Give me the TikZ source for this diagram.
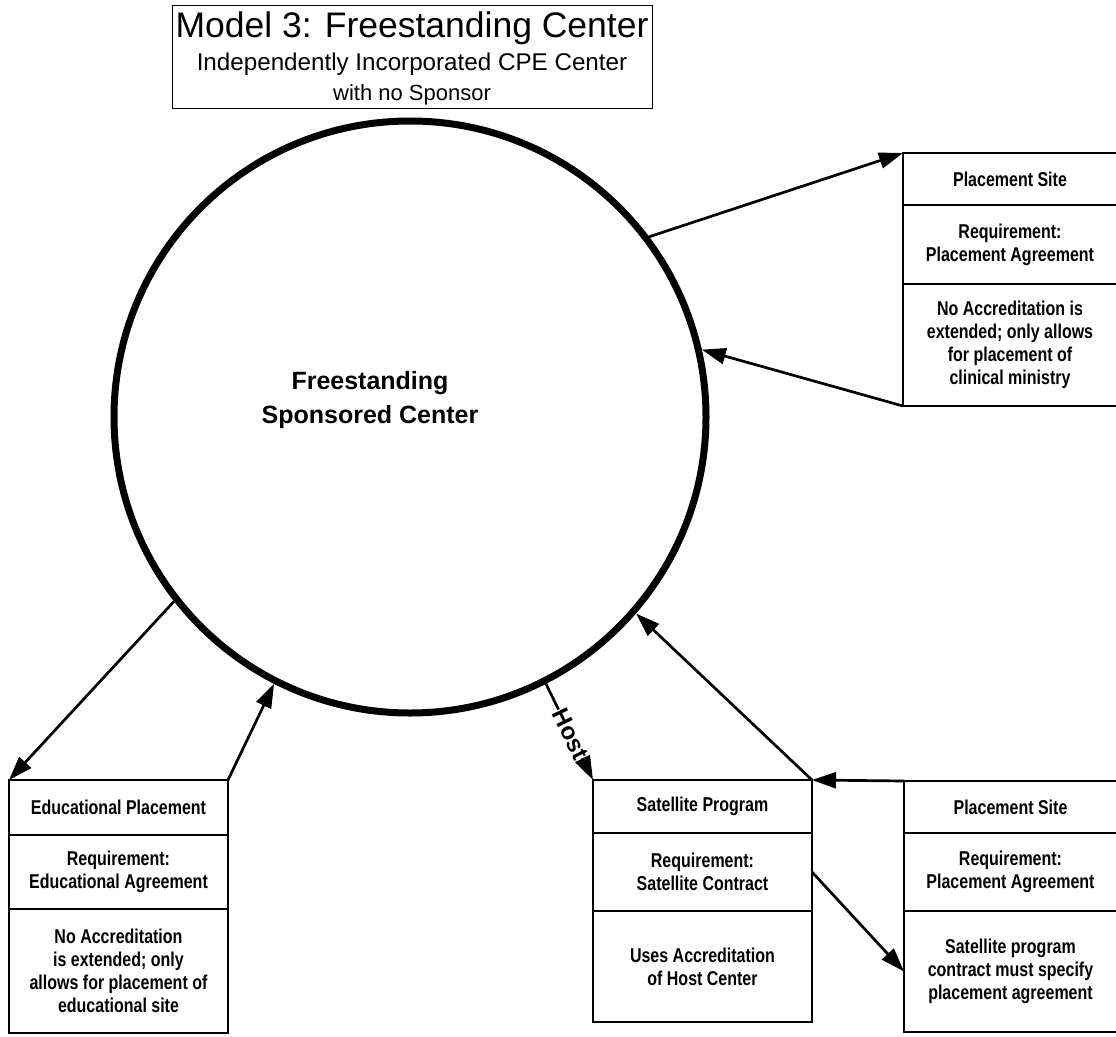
\documentclass[tikz,border=0pt]{standalone}
\usepackage{fontspec}
\setmainfont{Liberation Sans}
\newfontfamily\nar[FakeStretch=0.8]{Liberation Sans}
\usetikzlibrary{arrows.meta}
\begin{document}
\begin{tikzpicture}[x=1pt,y=-1pt,
  sec/.style={draw, line width=1.4pt, anchor=north west, inner sep=0pt, outer sep=0pt,
    align=center, font=\nar\bfseries\fontsize{20}{23}\selectfont},
  arr/.style={line width=2.7pt, -{Triangle[length=24pt,width=16pt]}},
  ttl/.style={anchor=base, inner sep=0pt}]
\useasboundingbox (0,0) rectangle (1116,1036);
\fill[white] (0,0) rectangle (1116,1036);

% title
\node[draw, line width=1pt, anchor=north west, minimum width=480pt, minimum height=103pt, inner sep=0pt] (title) at (172,5) {};
\node[ttl, font=\fontsize{35.5}{40}\selectfont] (t1) at (412,37) {Model 3: Freestanding Center};
\node[ttl, font=\fontsize{24.2}{28}\selectfont] (t2) at (412,70.7) {Independently Incorporated CPE Center};
\node[ttl, font=\fontsize{22}{26}\selectfont] (t3) at (412,100) {with no Sponsor};

% main circle
\node[circle, draw, line width=7pt, minimum size=592pt, inner sep=0pt] (c) at (410,417) {};
\node[font=\bfseries\fontsize{25}{34}\selectfont, align=center] (ctext) at (370,400) {Freestanding\\Sponsored Center};

% top-right box
\node[sec, minimum width=214pt, minimum height=52pt] (tr1) at (903,153) {Placement Site};
\node[sec, minimum width=214pt, minimum height=79pt] (tr2) at (903,205) {Requirement:\\Placement Agreement};
\node[sec, minimum width=214pt, minimum height=122pt] (tr3) at (903,284) {No Accreditation is\\extended; only allows\\for placement of\\clinical ministry};

% bottom-left box
\node[sec, minimum width=219pt, minimum height=55pt] (bl1) at (9,780) {Educational Placement};
\node[sec, minimum width=219pt, minimum height=74pt] (bl2) at (9,835) {Requirement:\\Educational Agreement};
\node[sec, minimum width=219pt, minimum height=124pt] (bl3) at (9,909) {No Accreditation\\is extended; only\\allows for placement of\\educational site};

% satellite box
\node[sec, minimum width=219pt, minimum height=53pt] (sp1) at (593,780) {Satellite Program};
\node[sec, minimum width=219pt, minimum height=78pt] (sp2) at (593,833) {Requirement:\\Satellite Contract};
\node[sec, minimum width=219pt, minimum height=111pt] (sp3) at (593,911) {Uses Accreditation\\of Host Center};

% bottom-right box
\node[sec, minimum width=213pt, minimum height=52pt] (br1) at (904,781) {Placement Site};
\node[sec, minimum width=213pt, minimum height=78pt] (br2) at (904,833) {Requirement:\\Placement Agreement};
\node[sec, minimum width=213pt, minimum height=121pt] (br3) at (904,911) {Satellite program\\contract must specify\\placement agreement};

% connectors
\draw[arr] (c.37.2) -- (tr1.north west);
\draw[arr] (tr3.south west) -- (c.13.5);
\draw[arr] (c.218.7) -- (bl1.north west);
\draw[arr] (bl1.north east) -- (c.243.4);
\draw[arr] (c.297.7) -- node[sloped, pos=0.52, fill=white, inner sep=0.3pt, font=\bfseries\fontsize{24}{24}\selectfont] (host) {Host} (sp1.north west);
\draw[arr] (br1.north west) -- (sp1.north east);
\draw[arr] (sp1.north east) -- (c.319.9);
\draw[arr] (sp2.east) -- (br3.west);
\end{tikzpicture}
\end{document}
